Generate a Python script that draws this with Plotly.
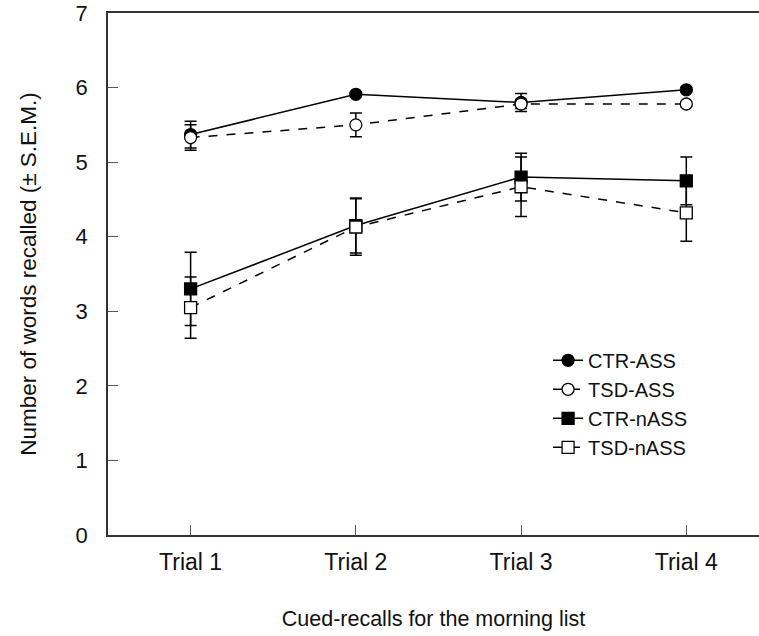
import plotly.graph_objects as go

trials = [1, 2, 3, 4]
trial_labels = ["Trial 1", "Trial 2", "Trial 3", "Trial 4"]

ctr_ass = [5.37, 5.91, 5.80, 5.97]
ctr_ass_err = [0.18, 0.03, 0.12, 0.03]
tsd_ass = [5.33, 5.50, 5.78, 5.78]
tsd_ass_err = [0.17, 0.16, 0.06, 0.03]
ctr_nass = [3.30, 4.15, 4.80, 4.75]
ctr_nass_err = [0.49, 0.37, 0.32, 0.32]
tsd_nass = [3.05, 4.13, 4.67, 4.32]
tsd_nass_err = [0.41, 0.38, 0.40, 0.38]

series = [
    ("CTR-ASS", ctr_ass, ctr_ass_err, "solid", "circle", "black"),
    ("TSD-ASS", tsd_ass, tsd_ass_err, "dash", "circle", "white"),
    ("CTR-nASS", ctr_nass, ctr_nass_err, "solid", "square", "black"),
    ("TSD-nASS", tsd_nass, tsd_nass_err, "dash", "square", "white"),
]

font = "Liberation Sans, Arial, Helvetica, sans-serif"
fig = go.Figure()
for name, vals, errs, dash, sym, fill in series:
    fig.add_trace(go.Scatter(
        x=trials, y=vals, name=name, mode="lines+markers",
        line=dict(color="black", width=1.5, dash=dash),
        marker=dict(symbol=sym, size=12, color=fill,
                    line=dict(color="black", width=1.3)),
        error_y=dict(type="data", array=errs, visible=True, color="black",
                     thickness=1.5, width=6),
    ))

fig.update_layout(
    width=759, height=636,
    margin=dict(l=108, r=0, t=13, b=101),
    paper_bgcolor="white", plot_bgcolor="white",
    font=dict(family=font, size=19, color="#111"),
    showlegend=True,
    legend=dict(x=0.676, y=0.372, xanchor="left", yanchor="top",
                bgcolor="rgba(0,0,0,0)", font=dict(size=20),
                tracegroupgap=0),
    xaxis=dict(range=[0.5, 4.44], tickvals=trials, ticktext=trial_labels,
               ticks="inside", ticklen=10, tickcolor="#555", tickwidth=1.2,
               showline=True, linecolor="#333", linewidth=1.5, mirror=True,
               showgrid=False, zeroline=False, ticklabelstandoff=6,
               tickfont=dict(size=23),
               title=dict(text="Cued-recalls for the morning list", standoff=37,
                          font=dict(size=21.5))),
    yaxis=dict(range=[0, 7], tickvals=list(range(8)),
               ticks="inside", ticklen=10, tickcolor="#555", tickwidth=1.2,
               showline=True, linecolor="#333", linewidth=1.5, mirror=False,
               showgrid=False, zeroline=False, ticklabelstandoff=14,
               tickfont=dict(size=22),
               title=dict(text="Number of words recalled (± S.E.M.)", standoff=33,
                          font=dict(size=22.5))),
)
fig.write_html("out.html")
